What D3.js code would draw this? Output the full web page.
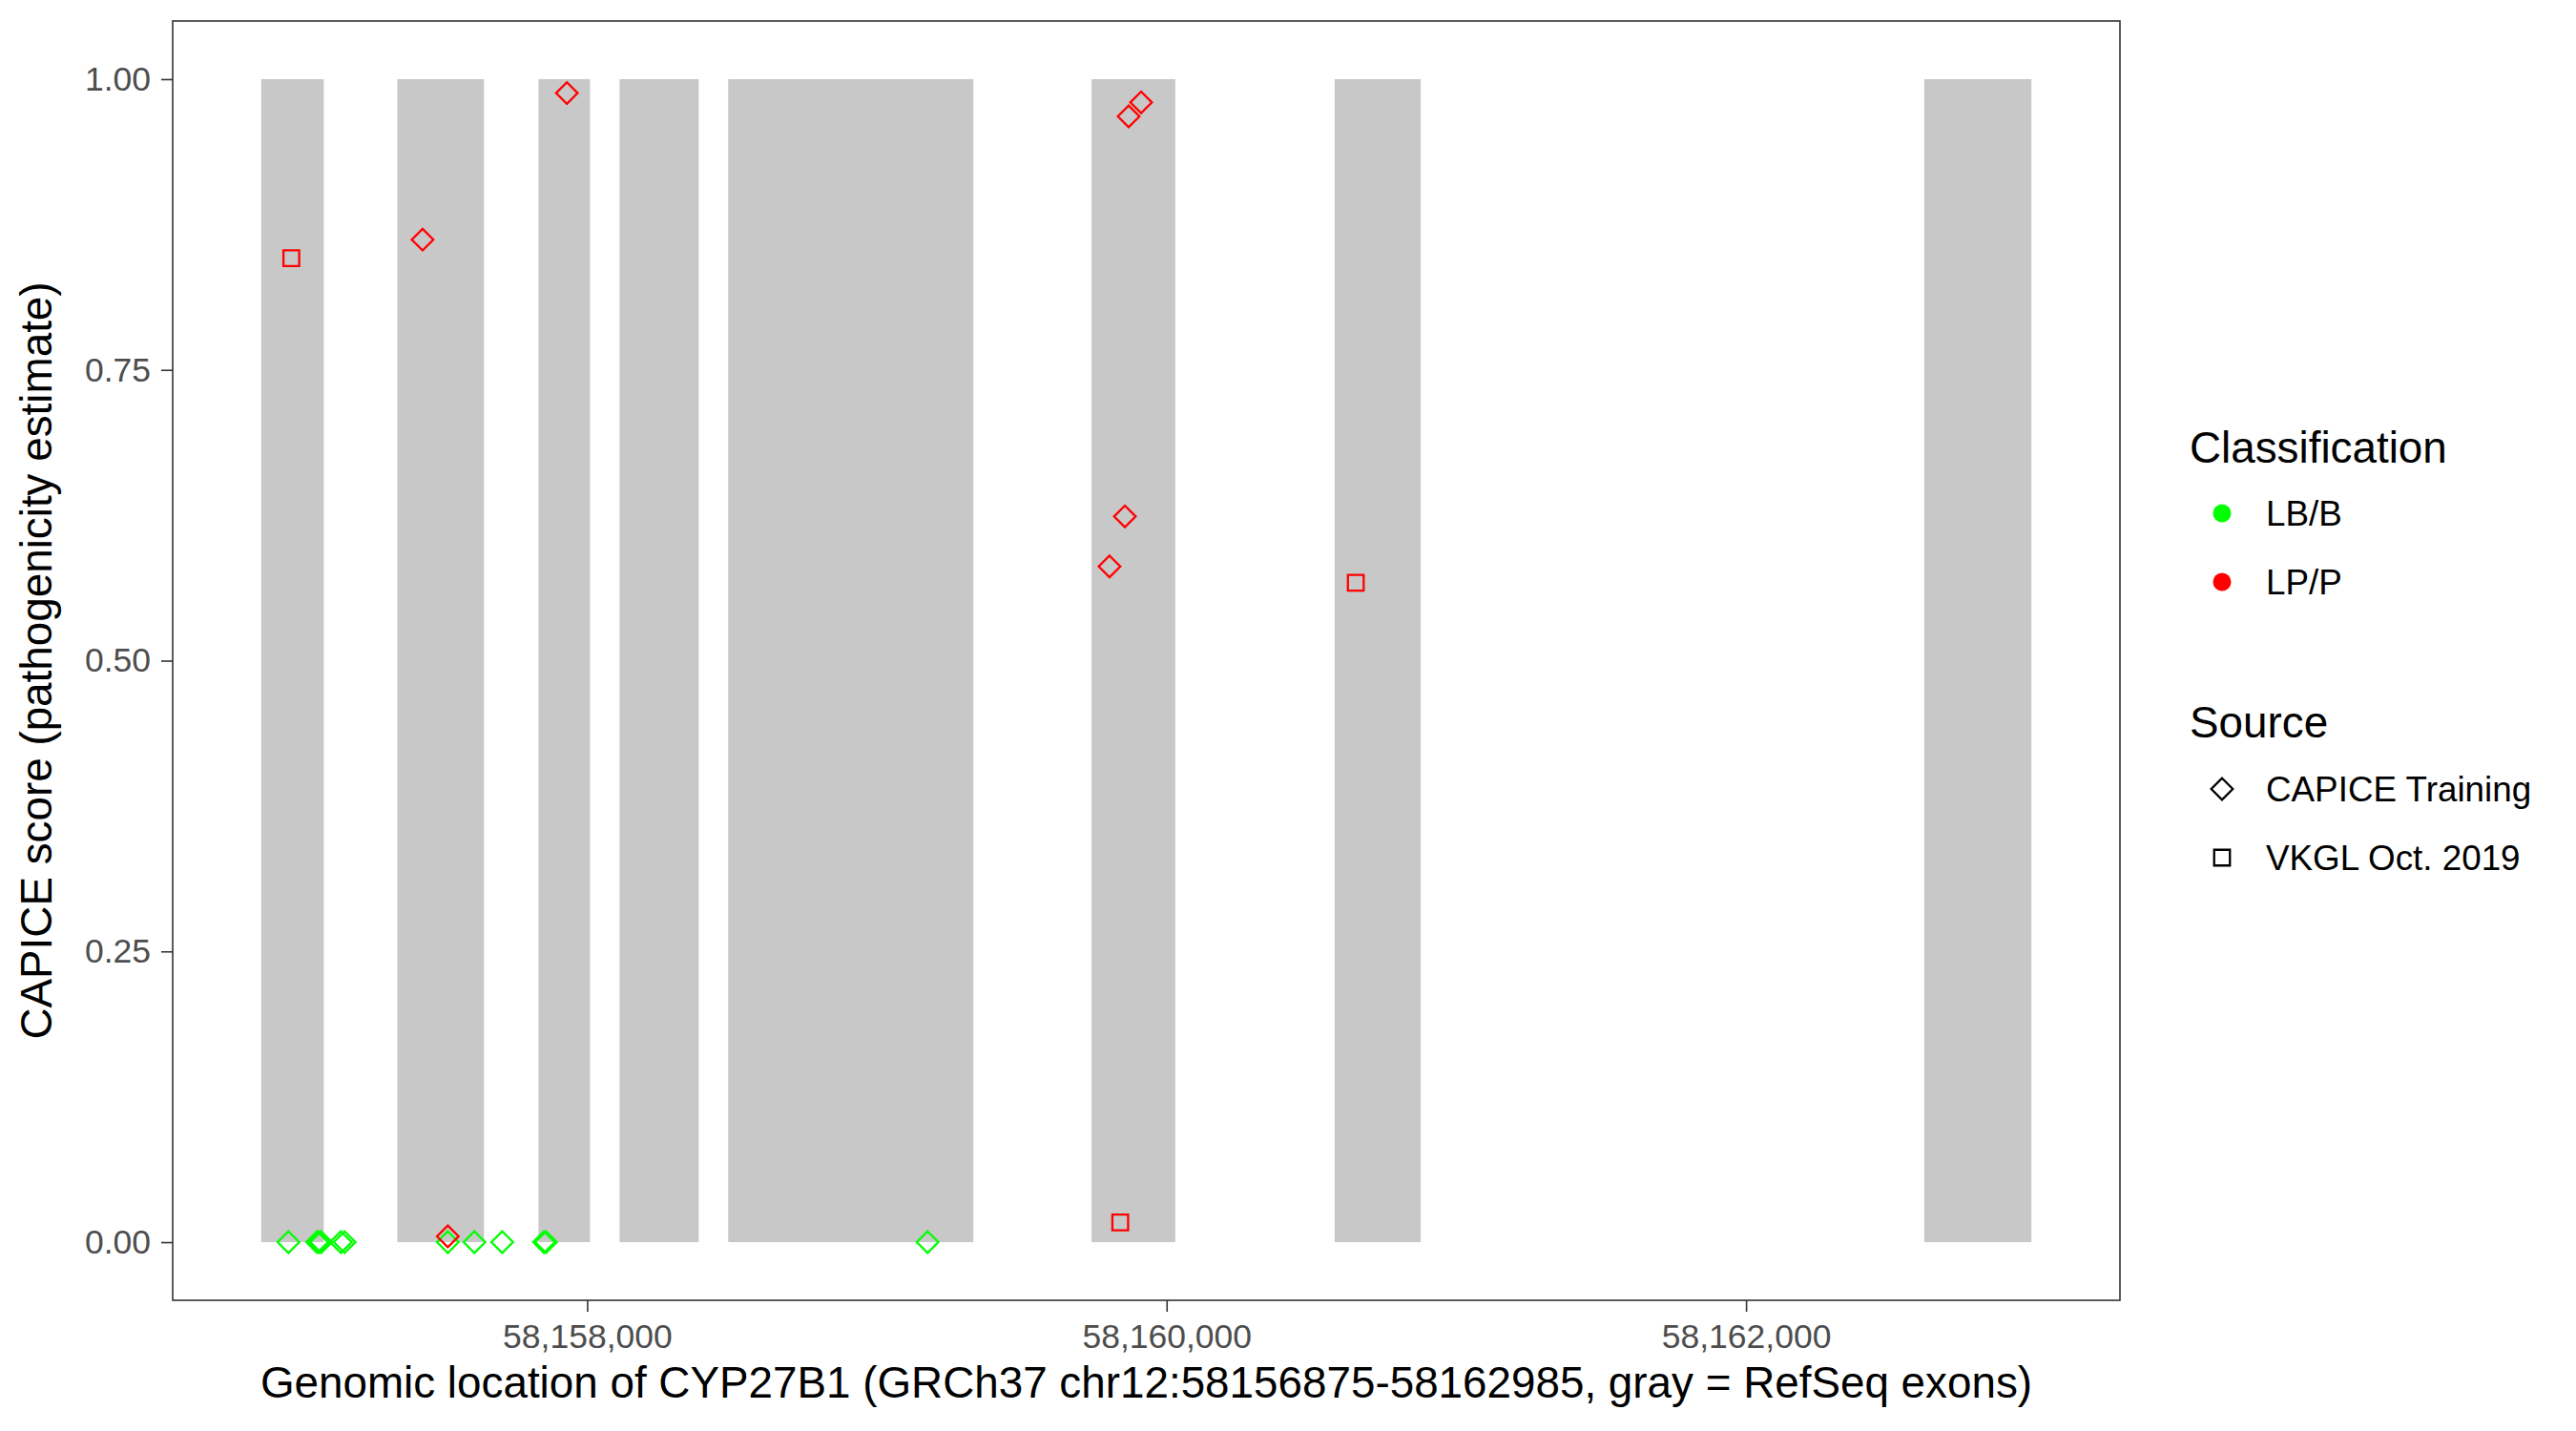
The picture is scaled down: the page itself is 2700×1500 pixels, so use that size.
<!DOCTYPE html>
<html>
<head>
<meta charset="utf-8">
<script src="https://cdn.jsdelivr.net/npm/d3@7"></script>
<style>
  body { margin: 0; background: #fff; }
  text { font-family: "Liberation Sans", Arial, Helvetica, sans-serif; }
</style>
</head>
<body>
<div id="chart"></div>
<script>
// RefSeq exons (gray bars)
const exonStart = [58156875, 58157345, 58157832, 58158112, 58158487, 58159741, 58160580, 58162615];
const exonEnd   = [58157091, 58157644, 58158010, 58158385, 58159333, 58160030, 58160877, 58162985];

// CAPICE training, LB/B
const capiceLbPos   = [58156969, 58157068, 58157075, 58157082, 58157150, 58157163, 58157519, 58157611, 58157707, 58157851, 58157858, 58159175];
const capiceLbScore = [0, 0, 0, 0, 0, 0, 0, 0, 0, 0, 0, 0];

// CAPICE training, LP/P
const capiceLpPos   = [58157432, 58157930, 58159869, 58159912, 58159856, 58159803, 58157519];
const capiceLpScore = [0.862, 0.988, 0.968, 0.980, 0.624, 0.581, 0.005];

// VKGL Oct. 2019, LP/P
const vkglLpPos   = [58156979, 58160653, 58159840];
const vkglLpScore = [0.846, 0.567, 0.017];

const xTicks = [58158000, 58160000, 58162000];
const yTicks = [0, 0.25, 0.5, 0.75, 1];
const classLabels = ["LB/B", "LP/P"];
const classColors = ["#00ff00", "#ff0000"];
const sourceLabels = ["CAPICE Training", "VKGL Oct. 2019"];

const width = 2700, height = 1500;
const panel = {left: 181, right: 2222, top: 22, bottom: 1363};
const titleSize = "45.8px", labelSize = "36.8px", tickSize = "35.5px";

const svg = d3.select("#chart")
  .append("svg")
  .attr("width", width)
  .attr("height", height);

const xMin = d3.min(exonStart), xMax = d3.max(exonEnd);
const xPad = (xMax - xMin) * 0.05;
const xScale = d3.scaleLinear()
  .domain([xMin - xPad, xMax + xPad])
  .range([panel.left, panel.right]);

const yScale = d3.scaleLinear()
  .domain([-0.05, 1.05])
  .range([panel.bottom, panel.top]);

// exons
svg.selectAll(".exon")
  .data(exonStart.map((s, i) => [s, exonEnd[i]]))
  .join("rect")
  .attr("class", "exon")
  .attr("x", d => xScale(d[0]))
  .attr("y", yScale(1))
  .attr("width", d => xScale(d[1]) - xScale(d[0]))
  .attr("height", yScale(0) - yScale(1))
  .attr("fill", "#c8c8c8");

function diamond(r) {
  return `M0,${-r}L${r},0L0,${r}L${-r},0Z`;
}
function square(s) {
  return `M${-s/2},${-s/2}H${s/2}V${s/2}H${-s/2}Z`;
}

function drawPoints(pos, score, shape, color) {
  svg.append("g")
    .selectAll("path")
    .data(pos.map((p, i) => [p, score[i]]))
    .join("path")
    .attr("transform", d => `translate(${xScale(d[0])},${yScale(d[1])})`)
    .attr("d", shape)
    .attr("fill", "none")
    .attr("stroke", color)
    .attr("stroke-width", 2.3);
}

drawPoints(capiceLbPos, capiceLbScore, diamond(11.3), classColors[0]);
drawPoints(capiceLpPos, capiceLpScore, diamond(11.3), classColors[1]);
drawPoints(vkglLpPos, vkglLpScore, square(16.5), classColors[1]);

// panel border
svg.append("rect")
  .attr("x", panel.left)
  .attr("y", panel.top)
  .attr("width", panel.right - panel.left)
  .attr("height", panel.bottom - panel.top)
  .attr("fill", "none")
  .attr("stroke", "#333333")
  .attr("stroke-width", 1.6);

// axes
const xAxis = svg.append("g")
  .attr("transform", `translate(0,${panel.bottom})`)
  .call(d3.axisBottom(xScale).tickValues(xTicks).tickFormat(d3.format(",")).tickSize(12).tickPadding(13));
const yAxis = svg.append("g")
  .attr("transform", `translate(${panel.left},0)`)
  .call(d3.axisLeft(yScale).tickValues(yTicks).tickFormat(d3.format(".2f")).tickSize(12).tickPadding(11));

[xAxis, yAxis].forEach(a => {
  a.select(".domain").remove();
  a.selectAll(".tick line").attr("stroke", "#333333").attr("stroke-width", 1.6);
  a.selectAll(".tick text")
    .attr("fill", "#4d4d4d")
    .style("font-size", tickSize)
    .style("font-family", '"Liberation Sans", Arial, sans-serif');
});

// axis titles
svg.append("text")
  .attr("x", (panel.left + panel.right) / 2)
  .attr("y", 1465)
  .attr("text-anchor", "middle")
  .style("font-size", titleSize)
  .text("Genomic location of CYP27B1 (GRCh37 chr12:58156875-58162985, gray = RefSeq exons)");

svg.append("text")
  .attr("transform", `translate(54,${(panel.top + panel.bottom) / 2}) rotate(-90)`)
  .attr("text-anchor", "middle")
  .style("font-size", titleSize)
  .text("CAPICE score (pathogenicity estimate)");

// legend: classification
const legend = svg.append("g");
legend.append("text")
  .attr("x", 2295).attr("y", 485)
  .style("font-size", titleSize)
  .text("Classification");

legend.selectAll(".cls-dot")
  .data(classLabels)
  .join("circle")
  .attr("class", "cls-dot")
  .attr("cx", 2329)
  .attr("cy", (d, i) => 538 + i * 72)
  .attr("r", 9.5)
  .attr("fill", (d, i) => classColors[i]);

legend.selectAll(".cls-label")
  .data(classLabels)
  .join("text")
  .attr("class", "cls-label")
  .attr("x", 2375)
  .attr("y", (d, i) => 551 + i * 72)
  .style("font-size", labelSize)
  .text(d => d);

// legend: source
legend.append("text")
  .attr("x", 2295).attr("y", 773)
  .style("font-size", titleSize)
  .text("Source");

const srcShapes = [diamond(11.3), square(16.5)];
legend.selectAll(".src-key")
  .data(sourceLabels)
  .join("path")
  .attr("class", "src-key")
  .attr("transform", (d, i) => `translate(2329,${827 + i * 72})`)
  .attr("d", (d, i) => srcShapes[i])
  .attr("fill", "none")
  .attr("stroke", "#000")
  .attr("stroke-width", 2.3);

legend.selectAll(".src-label")
  .data(sourceLabels)
  .join("text")
  .attr("class", "src-label")
  .attr("x", 2375)
  .attr("y", (d, i) => 840 + i * 72)
  .style("font-size", labelSize)
  .text(d => d);
</script>
</body>
</html>
